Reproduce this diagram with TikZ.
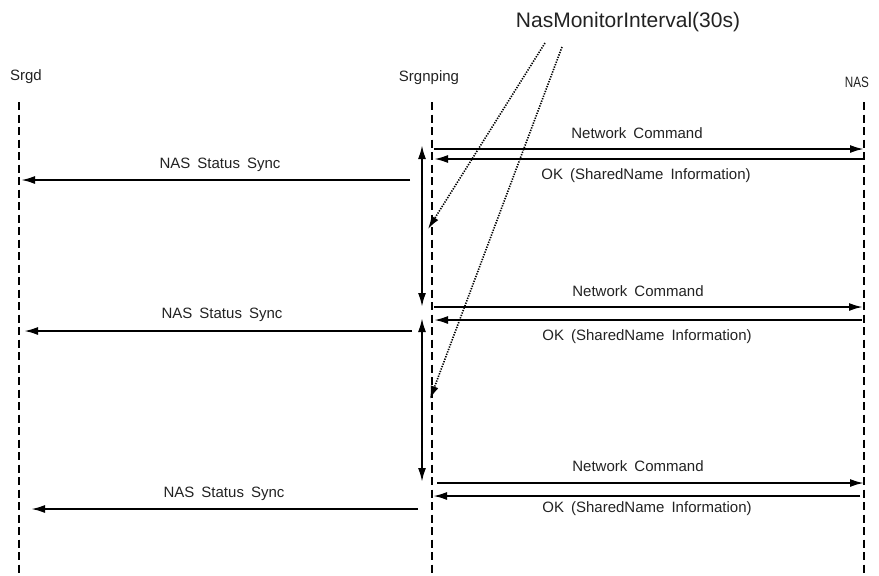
\documentclass[tikz,border=0pt]{standalone}
\usepackage{fontspec}
\setmainfont{Liberation Sans}[WordSpace=1.7]
\usetikzlibrary{arrows.meta}
\definecolor{txt}{HTML}{222222}
\tikzset{
  lifeline/.style={line width=1.6pt, dash pattern=on 8pt off 4.5pt},
  msg/.style={line width=2.1pt, -{Latex[length=14pt,width=8pt]}},
  span/.style={line width=2.1pt, {Latex[length=14pt,width=8pt]}-{Latex[length=14pt,width=8pt]}},
  timer/.style={line width=1.6pt, dash pattern=on 1.3pt off 1.3pt, -{Latex[length=13pt,width=8pt]}},
  lbl/.style={inner sep=0pt, text=txt, font=\fontsize{15}{18}\selectfont},
  actor/.style={inner sep=0pt, text=txt, font=\fontsize{15}{18}\selectfont},
}
\begin{document}
\begin{tikzpicture}[x=1pt,y=-1pt]
\useasboundingbox (0,0) rectangle (879,576);
% actors
\node[actor] (srgd) at (26,77) {Srgd};
\node[actor] (srgn) at (429,78) {Srgnping};
\node[actor] (nas) at (857,82) {\scalebox{0.78}[1]{NAS}};
\node[inner sep=0pt, text=txt, font=\fontsize{21}{24}\selectfont] (interval) at (628,22) {NasMonitorInterval(30s)};
% lifelines
\coordinate (l1t) at (19,102); \coordinate (l1b) at (19,576);
\coordinate (l2t) at (432,102); \coordinate (l2b) at (432,576);
\coordinate (l3t) at (864,102); \coordinate (l3b) at (864,576);
\draw[lifeline] (l1t) -- (l1b);
\draw[lifeline] (l2t) -- (l2b);
\draw[lifeline] (l3t) -- (l3b);
% group 1
\coordinate (nc1s) at (434,149); \coordinate (nc1e) at (864,149);
\coordinate (ok1s) at (864,159); \coordinate (ok1e) at (434,159);
\coordinate (ns1s) at (410,180); \coordinate (ns1e) at (21,180);
\draw[msg] (nc1s) -- (nc1e);
\draw[msg] (ok1s) -- (ok1e);
\draw[msg] (ns1s) -- (ns1e);
\node[lbl] (nc1l) at (637,133) {Network Command};
\node[lbl] (ok1l) at (646,176) {OK (SharedName Information)};
\node[lbl] (ns1l) at (220,165) {NAS Status Sync};
% group 2
\coordinate (nc2s) at (434,307); \coordinate (nc2e) at (863,307);
\coordinate (ok2s) at (862,320); \coordinate (ok2e) at (434,320);
\coordinate (ns2s) at (412,331); \coordinate (ns2e) at (24,331);
\draw[msg] (nc2s) -- (nc2e);
\draw[msg] (ok2s) -- (ok2e);
\draw[msg] (ns2s) -- (ns2e);
\node[lbl] (nc2l) at (638,291) {Network Command};
\node[lbl] (ok2l) at (647,337) {OK (SharedName Information)};
\node[lbl] (ns2l) at (222,315) {NAS Status Sync};
% group 3
\coordinate (nc3s) at (437,483); \coordinate (nc3e) at (864,483);
\coordinate (ok3s) at (860,496); \coordinate (ok3e) at (433,496);
\coordinate (ns3s) at (418,509); \coordinate (ns3e) at (31,509);
\draw[msg] (nc3s) -- (nc3e);
\draw[msg] (ok3s) -- (ok3e);
\draw[msg] (ns3s) -- (ns3e);
\node[lbl] (nc3l) at (638,466) {Network Command};
\node[lbl] (ok3l) at (647,509) {OK (SharedName Information)};
\node[lbl] (ns3l) at (224,494) {NAS Status Sync};
% interval spans
\coordinate (sp1t) at (422,145); \coordinate (sp1b) at (422,307);
\coordinate (sp2t) at (422,318); \coordinate (sp2b) at (422,482);
\draw[span] (sp1t) -- (sp1b);
\draw[span] (sp2t) -- (sp2b);
% timer pointers
\coordinate (t1s) at (545,43); \coordinate (t1e) at (428,229);
\coordinate (t2s) at (562,47); \coordinate (t2e) at (430,399);
\draw[timer] (t1s) -- (t1e);
\draw[timer] (t2s) -- (t2e);
\end{tikzpicture}
\end{document}
